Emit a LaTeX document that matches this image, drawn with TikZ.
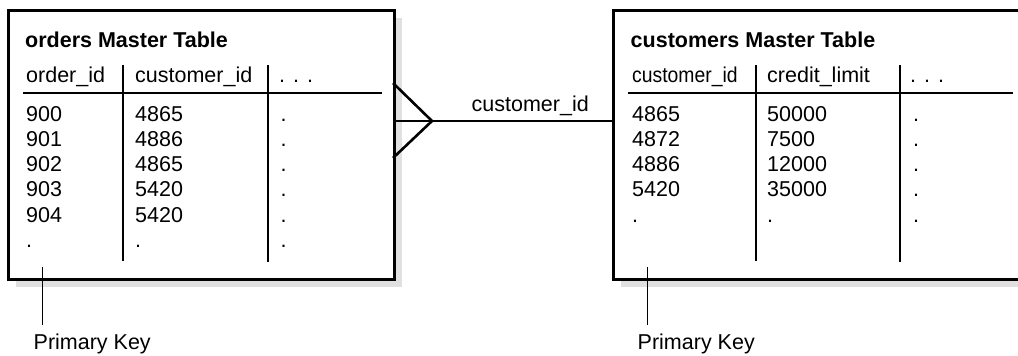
\documentclass[tikz,border=0pt]{standalone}
\usepackage{fontspec}
\setmainfont{Liberation Sans}
\usetikzlibrary{positioning,shadows}
\definecolor{shade}{HTML}{E0E0E0}
\tikzset{
  tablebox/.style={draw, line width=2.6pt, fill=white, anchor=north west, inner sep=0pt,
    minimum height=269pt,
    drop shadow={shadow xshift=8pt, shadow yshift=-8pt, fill=shade, opacity=1}},
  celltext/.style={anchor=base west, inner sep=0pt, font=\fontsize{21.5}{26}\selectfont},
  titletext/.style={celltext, font=\fontsize{21.5}{26}\selectfont\bfseries},
  headrule/.style={line width=2pt},
  colrule/.style={line width=2.6pt},
  link/.style={line width=2.6pt},
  keyline/.style={line width=1pt, shorten >=8pt}
}
\begin{document}
\begin{tikzpicture}[x=1pt, y=-1pt]
  \path[use as bounding box, clip] (0,0) rectangle (1018,356);
  % orders table
  \node[tablebox, minimum width=386pt] (orders) at (7,9) {};
  \node[titletext] (ordtitle) at (25,47) {orders Master Table};
  \node[celltext] (ordhead1) at (26,82) {order\_id};
  \node[celltext] (ordhead2) at (135,82) {customer\_id};
  \node[celltext] (ordhead3) at (279,82) {. . .};
  \draw[headrule] (23,93) -- (382,93);
  \draw[colrule] (123,65) -- (123,261);
  \draw[colrule] (268,65) -- (268,262);
  \foreach \a/\b [count=\i] in {900/4865, 901/4886, 902/4865, 903/5420, 904/5420, ./.} {
    \node[celltext] (ord-\i-a) at (26,95.7+25.3*\i) {\a};
    \node[celltext] (ord-\i-b) at (135,95.7+25.3*\i) {\b};
    \node[celltext] (ord-\i-c) at (280.5,95.7+25.3*\i) {.};
  }
  % customers table
  \node[tablebox, minimum width=460pt] (customers) at (612,9) {};
  \node[titletext] (custtitle) at (630.5,47) {customers Master Table};
  \node[celltext] (custhead1) at (632,82) {\scalebox{0.9}[1]{customer\_id}};
  \node[celltext] (custhead2) at (767,82) {credit\_limit};
  \node[celltext] (custhead3) at (910,82) {. . .};
  \draw[headrule] (628,93) -- (1013,93);
  \draw[colrule] (756,65) -- (756,261);
  \draw[colrule] (900,65) -- (900,262);
  \foreach \a/\b [count=\i] in {4865/50000, 4872/7500, 4886/12000, 5420/35000, ./.} {
    \node[celltext] (cust-\i-a) at (632,95.7+25.3*\i) {\a};
    \node[celltext] (cust-\i-b) at (767,95.7+25.3*\i) {\b};
    \node[celltext] (cust-\i-c) at (913,95.7+25.3*\i) {.};
  }
  % crow's foot link
  \coordinate (forktop) at (393,83);
  \coordinate (forkbot) at (393,158);
  \coordinate (foot) at (432,121);
  \draw[link] (forktop) -- (foot) -- (forkbot);
  \draw[link] (orders.east |- foot) -- (customers.west |- foot);
  \node[celltext] (fklabel) at (471.5,111) {customer\_id};
  % primary keys
  \node[celltext] (ordkey) at (33.5,349) {Primary Key};
  \coordinate (ordkeytop) at (42,267);
  \draw[keyline] (ordkeytop) -- (ordkeytop |- ordkey.north);
  \node[celltext] (custkey) at (637.5,349) {Primary Key};
  \coordinate (custkeytop) at (647,267);
  \draw[keyline] (custkeytop) -- (custkeytop |- custkey.north);
\end{tikzpicture}
\end{document}
